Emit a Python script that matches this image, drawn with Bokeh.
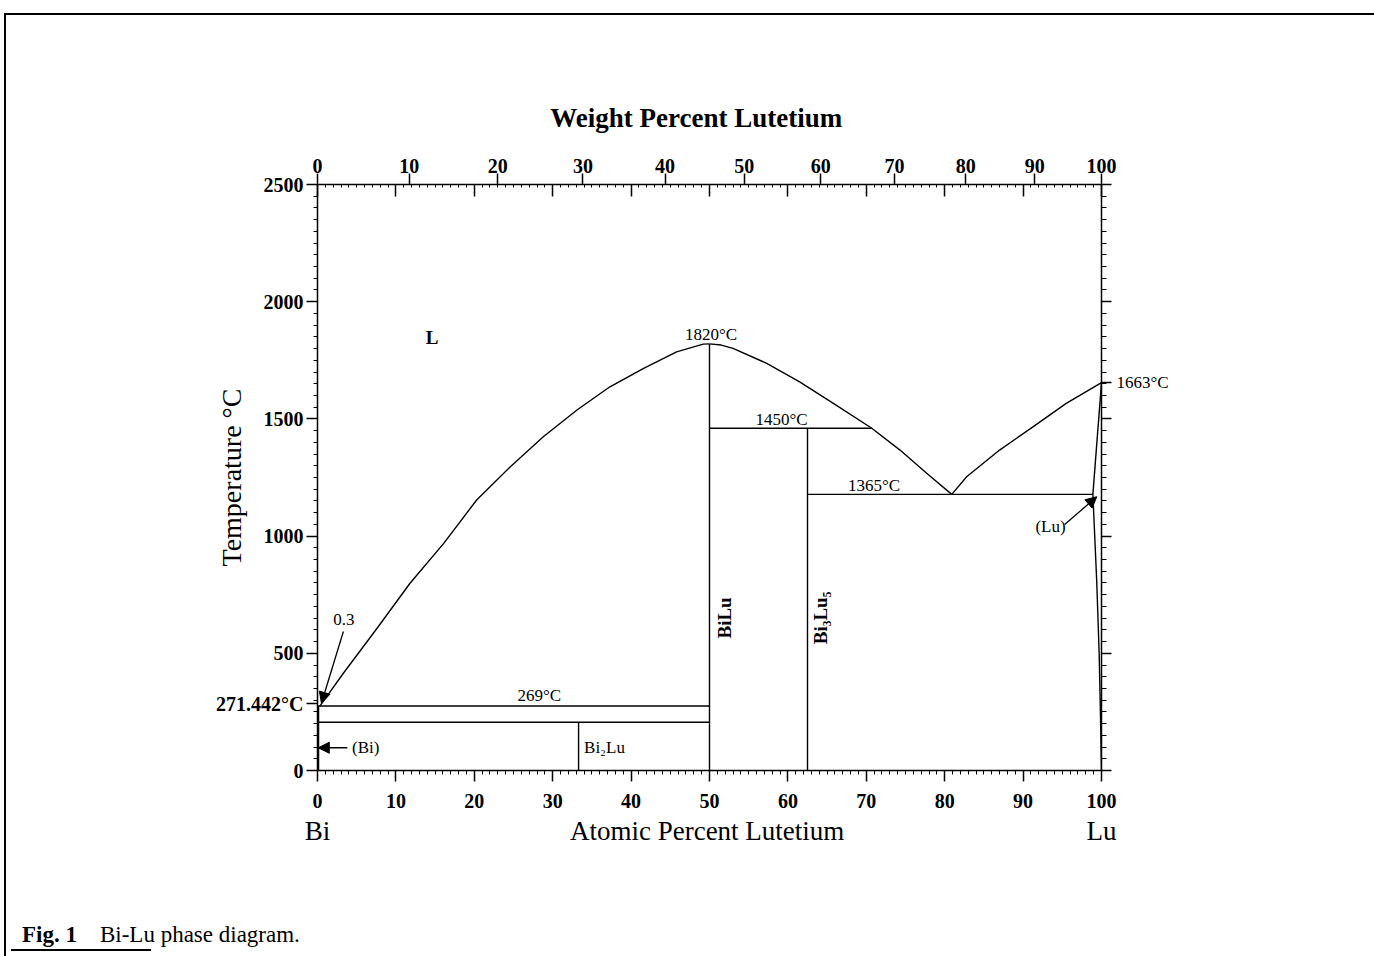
from bokeh.plotting import figure
from bokeh.layouts import column
from bokeh.models import (LinearAxis, FixedTicker, Range1d, Arrow, NormalHead, Div,
                          CustomJSTickFormatter)
from bokeh.embed import file_html
from bokeh.resources import INLINE
from bokeh.core.properties import value

# ---------------- data ----------------
# liquidus Bi side -> BiLu congruent point
liq_left_x = [0.3, 3.3, 7.6, 11.8, 16.1, 20.3, 24.6, 28.8, 33.1, 37.3, 41.6, 45.8, 49.2, 50.0]
liq_left_t = [275, 415, 607, 799, 969, 1154, 1296, 1424, 1538, 1637, 1716, 1786, 1819, 1820]
# liquidus BiLu -> eutectic
liq_mid_x = [50.0, 51.5, 53.0, 57.3, 61.5, 65.8, 70.7, 74.3, 77.7, 80.9]
liq_mid_t = [1820, 1815, 1801, 1737, 1658, 1566, 1460, 1367, 1268, 1178]
# liquidus eutectic -> Lu
liq_right_x = [80.9, 82.8, 87.0, 91.3, 95.5, 100.0]
liq_right_t = [1178, 1253, 1367, 1467, 1566, 1655]
# (Lu) solidus and solvus
lu_solidus_x = [100.0, 98.9]
lu_solidus_t = [1655, 1178]
lu_solvus_x = [98.9, 99.4, 99.7, 99.85, 100.0]
lu_solvus_t = [1178, 800, 500, 270, 0]

# invariant (horizontal) lines: x from, x to, temperature
horiz_x0 = [0.0, 0.0, 50.0, 62.5]
horiz_x1 = [50.0, 50.0, 70.7, 98.9]
horiz_t = [275, 206, 1460, 1178]
# compound (vertical) lines: x, t from, t to
vert_x = [50.0, 62.5, 33.3]
vert_t0 = [0, 0, 0]
vert_t1 = [1820, 1460, 206]
# (Bi) terminal solid solution
bi_ss_x = [0.0, 0.0]
bi_ss_t = [0, 275]

# labels inside the diagram
liquid_x, liquid_t, liquid_text = [14.6], [1846], ["L"]
lab_x = [50.2, 59.2, 71.0, 28.3, 3.35, 93.5]
lab_t = [1862, 1499, 1218, 318, 646, 1043]
lab_text = ["1820°C", "1450°C", "1365°C", "269°C", "0.3", "(Lu)"]
phase_x = [4.4, 34.0]
phase_t = [97, 97]
phase_text = ["(Bi)", "Bi₂Lu"]
rot_x = [51.9, 64.1]
rot_t = [651, 651]
rot_text = ["BiLu", "Bi₃Lu₅"]

# arrows: tail (x,t) -> head (x,t)
arrow_x0 = [3.3, 3.8, 95.3]
arrow_t0 = [593, 97, 1049]
arrow_x1 = [0.5, 0.1, 99.4]
arrow_t1 = [287, 97, 1168]

# axes
at_ticks = [0, 10, 20, 30, 40, 50, 60, 70, 80, 90, 100]
at_minor = list(range(0, 101))
t_ticks = [0, 500, 1000, 1500, 2000, 2500]
t_minor = list(range(0, 2501, 50))
bi_mp_t, bi_mp_label = 285, "271.442°C"     # Bi melting point label (left side)
lu_mp_t, lu_mp_label = 1655, "1663°C"       # Lu melting point label (right side)
end_pos = [0, 49.7, 100]
end_labels = ["Bi", "Atomic Percent Lutetium", "Lu"]
wt_title_pos, wt_title = 48.3, "Weight Percent Lutetium"
wt_labels = [0, 10, 20, 30, 40, 50, 60, 70, 80, 90, 100]
M_BI, M_LU = 208.98, 174.967


def wt_to_at(w):
    a = w / M_LU
    b = (100 - w) / M_BI
    return 100.0 * a / (a + b)


wt_pos = [wt_to_at(w) for w in wt_labels]

# ---------------- figure ----------------
FONT = "Liberation Serif"
fig = figure(width=1366, height=880, output_backend="svg", toolbar_location=None,
             x_range=Range1d(0, 100), y_range=Range1d(0, 2500),
             x_axis_location=None, y_axis_location=None,
             min_border_left=311, min_border_right=271, min_border_top=169, min_border_bottom=125)
fig.grid.visible = False
fig.outline_line_color = None
fig.background_fill_color = "white"
fig.border_fill_color = "white"


def style(ax, label_size="20px", bold=True):
    ax.axis_line_color = "black"
    ax.axis_line_width = 1.5
    ax.major_tick_line_color = "black"
    ax.major_tick_line_width = 1.5
    ax.minor_tick_line_color = "black"
    ax.minor_tick_line_width = 1
    ax.major_label_text_font = FONT
    ax.major_label_text_font_style = "bold" if bold else "normal"
    ax.major_label_text_font_size = label_size
    ax.major_label_text_color = "black"
    ax.axis_label_text_font = FONT
    ax.axis_label_text_font_size = "28px"
    ax.axis_label_text_font_style = "normal"
    ax.axis_label_text_color = "black"


def bare(ax):
    ax.axis_line_color = None
    ax.major_tick_line_color = None
    ax.minor_tick_line_color = None
    ax.major_tick_out, ax.major_tick_in = 0, 0
    ax.minor_tick_out, ax.minor_tick_in = 0, 0


# bottom: atomic percent ticks
ax_b = LinearAxis(ticker=FixedTicker(ticks=at_ticks, minor_ticks=at_minor))
style(ax_b)
ax_b.major_tick_out, ax_b.major_tick_in = 11, 0
ax_b.minor_tick_out, ax_b.minor_tick_in = 4, 0
ax_b.major_label_standoff = 12
fig.add_layout(ax_b, "below")

# bottom row: Bi ... Atomic Percent Lutetium ... Lu
ax_b2 = LinearAxis(ticker=FixedTicker(ticks=end_pos, minor_ticks=[]),
                   major_label_overrides={k: v for k, v in zip(end_pos, end_labels)})
style(ax_b2, label_size="27px", bold=False)
bare(ax_b2)
ax_b2.major_label_standoff = 5
fig.add_layout(ax_b2, "below")

# left: temperature
left_ticks = sorted(t_ticks + [bi_mp_t])
left_over = {t: str(t) for t in t_ticks}
left_over[bi_mp_t] = bi_mp_label
ax_l = LinearAxis(ticker=FixedTicker(ticks=left_ticks, minor_ticks=t_minor),
                  major_label_overrides=left_over, axis_label="Temperature °C")
style(ax_l)
ax_l.major_tick_out, ax_l.major_tick_in = 11, 0
ax_l.minor_tick_out, ax_l.minor_tick_in = 4, 0
ax_l.major_label_standoff = 3
ax_l.axis_label_standoff = -34
fig.add_layout(ax_l, "left")

# right: ticks only, plus Lu melting point
right_ticks = sorted(t_ticks + [lu_mp_t])
right_over = {t: "" for t in t_ticks}
right_over[lu_mp_t] = lu_mp_label
ax_r = LinearAxis(ticker=FixedTicker(ticks=right_ticks, minor_ticks=t_minor),
                  major_label_overrides=right_over)
style(ax_r, label_size="17px", bold=False)
ax_r.major_tick_out, ax_r.major_tick_in = 10, 0
ax_r.minor_tick_out, ax_r.minor_tick_in = 5, 0
ax_r.major_label_standoff = 5
fig.add_layout(ax_r, "right")

# top: inward atomic-percent ticks (no labels)
ax_ta = LinearAxis(ticker=FixedTicker(ticks=at_ticks, minor_ticks=at_minor),
                   formatter=CustomJSTickFormatter(code="return ''"))
style(ax_ta)
ax_ta.major_tick_out, ax_ta.major_tick_in = 0, 12
ax_ta.minor_tick_out, ax_ta.minor_tick_in = 0, 3
ax_ta.major_label_standoff = 0
fig.add_layout(ax_ta, "above")

# top: weight percent scale
ax_tw = LinearAxis(ticker=FixedTicker(ticks=wt_pos, minor_ticks=[]),
                   major_label_overrides={pos: str(w) for pos, w in zip(wt_pos, wt_labels)})
style(ax_tw)
ax_tw.axis_line_color = None
ax_tw.major_tick_out, ax_tw.major_tick_in = 11, 0
ax_tw.minor_tick_out, ax_tw.minor_tick_in = 0, 0
ax_tw.major_label_standoff = 1
fig.add_layout(ax_tw, "above")

# top title row
ax_tt = LinearAxis(ticker=FixedTicker(ticks=[wt_title_pos], minor_ticks=[]),
                   major_label_overrides={wt_title_pos: wt_title})
style(ax_tt, label_size="27px", bold=True)
bare(ax_tt)
ax_tt.major_label_standoff = 23
fig.add_layout(ax_tt, "above")

# ---------------- curves and lines ----------------
LW = 1.4
fig.line(liq_left_x, liq_left_t, line_color="black", line_width=LW)
fig.line(liq_mid_x, liq_mid_t, line_color="black", line_width=LW)
fig.line(liq_right_x, liq_right_t, line_color="black", line_width=LW)
fig.line(lu_solidus_x, lu_solidus_t, line_color="black", line_width=LW)
fig.line(lu_solvus_x, lu_solvus_t, line_color="black", line_width=LW)
fig.segment(x0=horiz_x0, y0=horiz_t, x1=horiz_x1, y1=horiz_t, line_color="black", line_width=LW)
fig.segment(x0=vert_x, y0=vert_t0, x1=vert_x, y1=vert_t1, line_color="black", line_width=LW)
fig.line(bi_ss_x, bi_ss_t, line_color="black", line_width=3.5)

for x0, t0, x1, t1 in zip(arrow_x0, arrow_t0, arrow_x1, arrow_t1):
    fig.add_layout(Arrow(x_start=x0, y_start=t0, x_end=x1, y_end=t1, line_width=1.3,
                         line_color="black",
                         end=NormalHead(size=11, fill_color="black", line_color="black")))

# ---------------- texts ----------------
fig.text(x=liquid_x, y=liquid_t, text=liquid_text, text_font=value(FONT), text_font_size="19px",
         text_font_style="bold", text_align="center", text_baseline="middle", text_color="black")
fig.text(x=lab_x, y=lab_t, text=lab_text, text_font=value(FONT), text_font_size="17px",
         text_align="center", text_baseline="middle", text_color="black")
fig.text(x=phase_x, y=phase_t, text=phase_text, text_font=value(FONT), text_font_size="17px",
         text_align="left", text_baseline="middle", text_color="black")
fig.text(x=rot_x, y=rot_t, text=rot_text, text_font=value(FONT), text_font_size="19px",
         text_font_style="bold", angle=1.5708,
         text_align="center", text_baseline="middle", text_color="black")

# ---------------- caption and page frame ----------------
caption = Div(width=1366, height=56,
              text=("<div style=\"padding-top:22px;padding-left:11px;white-space:nowrap;"
                    "font-family:'Liberation Serif';font-size:23px;color:black;line-height:26px\">"
                    "<b>Fig. 1</b>&nbsp;&nbsp;&nbsp;&nbsp;Bi-Lu phase diagram.</div>"
                    "<div style=\"margin-top:1px;width:140px;"
                    "border-top:2px solid black;height:0px\"></div>"))

p = column(fig, caption, spacing=0,
           styles={"margin-left": "4px", "margin-top": "13px",
                   "border-left": "2px solid black", "border-top": "2px solid black"})

open("out.html", "w").write(file_html(p, INLINE))
